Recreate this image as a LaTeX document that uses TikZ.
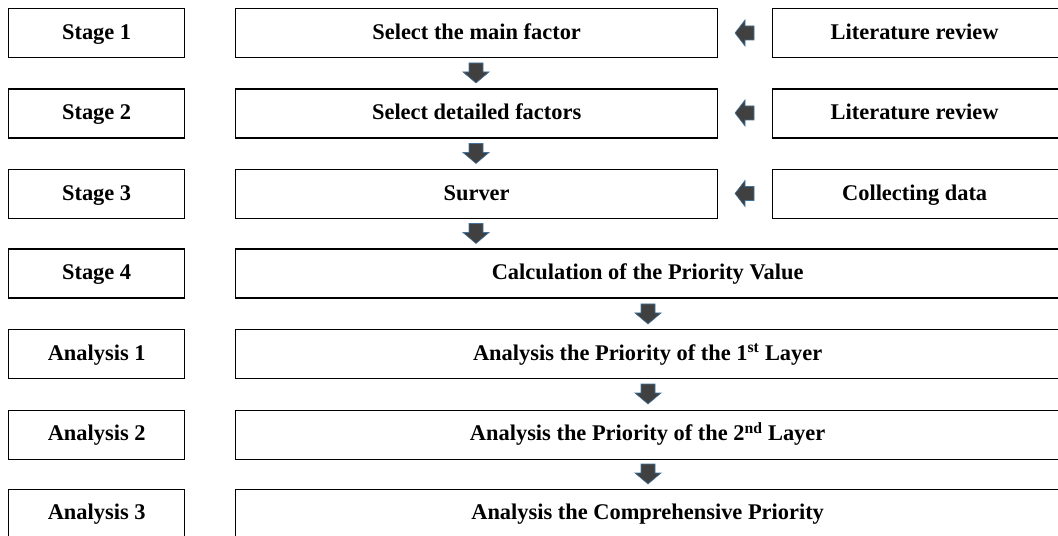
\documentclass[tikz,border=0pt]{standalone}
\usepackage{fontspec}
\setmainfont{Liberation Serif}
\definecolor{arrfill}{HTML}{404040}
\definecolor{arredge}{HTML}{41719C}
\tikzset{
  x=1bp,y=-1bp,
  box/.style={draw=black,line width=1.3bp,fill=white,inner sep=0pt,anchor=north west},
  lbl/.style={font=\fontsize{22.5}{26}\selectfont\bfseries,inner sep=0pt,text height=15bp,text depth=0pt,yshift=1.5bp},
  blk/.style={fill=arrfill,draw=arredge,line width=0.6bp,line join=miter},
}
\newcommand{\downarr}[2]{% center x, top y
  \draw[blk] (#1-7,#2) -- (#1+7,#2) -- (#1+7,#2+9) -- (#1+13,#2+9) -- (#1,#2+20) -- (#1-13,#2+9) -- (#1-7,#2+9) -- cycle;}
\newcommand{\leftarr}[2]{% tip x, center y
  \draw[blk] (#1,#2) -- (#1+10,#2-13) -- (#1+10,#2-7) -- (#1+19,#2-7) -- (#1+19,#2+7) -- (#1+10,#2+7) -- (#1+10,#2+13) -- cycle;}
\begin{document}
\begin{tikzpicture}
\useasboundingbox (0,0) rectangle (1058,536);
% left column
\foreach \t/\y/\n in {Stage 1/8/s1,Stage 2/88.5/s2,Stage 3/169/s3,Stage 4/248.5/s4,Analysis 1/329/a1,Analysis 2/409.5/a2,Analysis 3/488.5/a3}{
  \node[box,minimum width=176bp,minimum height=49bp] (\n) at (8,\y) {};
  \node[lbl] at (\n.center) {\t};
}
% middle column rows 1-3
\node[box,minimum width=482bp,minimum height=49bp] (m1) at (235,8) {};
\node[lbl] at (m1.center) {Select the main factor};
\node[box,minimum width=482bp,minimum height=49bp] (m2) at (235,88.5) {};
\node[lbl] at (m2.center) {Select detailed factors};
\node[box,minimum width=482bp,minimum height=49bp] (m3) at (235,169) {};
\node[lbl] at (m3.center) {Surver};
% right column
\node[box,minimum width=300bp,minimum height=49bp] (r1) at (772,8) {};
\node[lbl] at ([xshift=-8bp]r1.center) {Literature review};
\node[box,minimum width=300bp,minimum height=49bp] (r2) at (772,88.5) {};
\node[lbl] at ([xshift=-8bp]r2.center) {Literature review};
\node[box,minimum width=300bp,minimum height=49bp] (r3) at (772,169) {};
\node[lbl] at ([xshift=-8bp]r3.center) {Collecting data};
% wide rows
\node[box,minimum width=828bp,minimum height=49bp] (w4) at (235,248.5) {};
\node[lbl] at ([xshift=-2bp]w4.center) {Calculation of the Priority Value};
\node[box,minimum width=828bp,minimum height=49bp] (w5) at (235,329) {};
\node[lbl] at ([xshift=-2bp]w5.center) {Analysis the Priority of the 1\textsuperscript{st} Layer};
\node[box,minimum width=828bp,minimum height=49bp] (w6) at (235,409.5) {};
\node[lbl] at ([xshift=-2bp]w6.center) {Analysis the Priority of the 2\textsuperscript{nd} Layer};
\node[box,minimum width=828bp,minimum height=49bp] (w7) at (235,488.5) {};
\node[lbl] at ([xshift=-2bp]w7.center) {Analysis the Comprehensive Priority};
% arrows
\downarr{476}{63}
\downarr{476}{143.5}
\downarr{476}{223.5}
\downarr{648}{304}
\downarr{648}{384}
\downarr{648}{464}
\leftarr{735}{33}
\leftarr{735}{113}
\leftarr{735}{193.5}
\end{tikzpicture}
\end{document}
